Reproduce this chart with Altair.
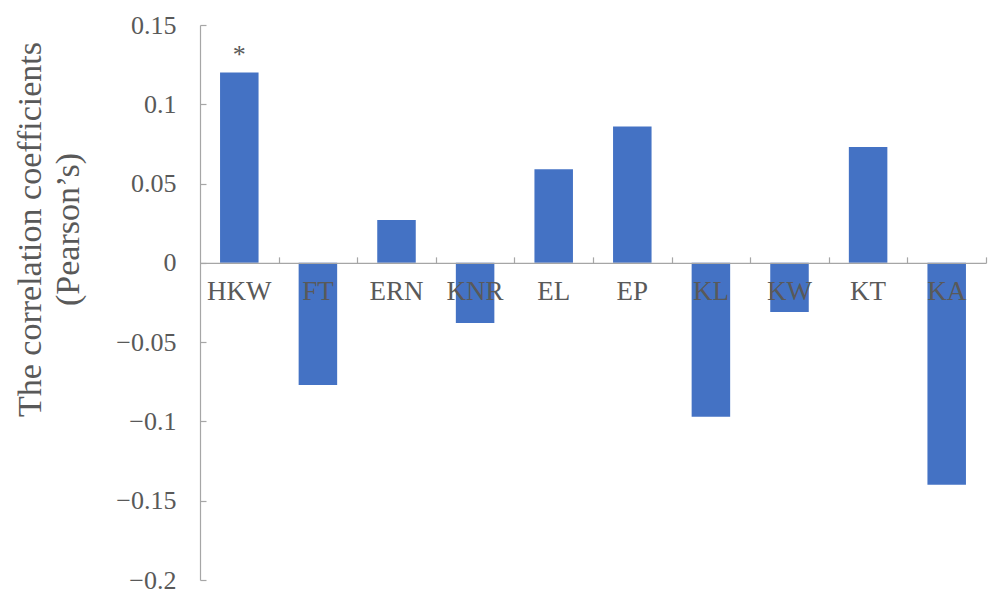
import altair as alt
import pandas as pd

# Trait categories and their Pearson correlation coefficients
traits = ["HKW", "FT", "ERN", "KNR", "EL", "EP", "KL", "KW", "KT", "KA"]
coefficients = [0.120, -0.077, 0.027, -0.038, 0.059, 0.086, -0.097, -0.031, 0.073, -0.140]
significance = ["*", "", "", "", "", "", "", "", "", ""]
y_ticks = [-0.2, -0.15, -0.1, -0.05, 0, 0.05, 0.1, 0.15]

df = pd.DataFrame({"trait": traits, "r": coefficients, "sig": significance})

FONT = "Times New Roman, Liberation Serif, serif"
TEXT = "#595959"
LINE = "#a6a6a6"
W, H = 786, 555
Y_MIN, Y_MAX = -0.2, 0.15
zero_from_top = H * Y_MAX / (Y_MAX - Y_MIN)
step = W / len(traits)

x_scale = alt.Scale(domain=traits, paddingInner=0.51, paddingOuter=0.255)
y_scale = alt.Scale(domain=[Y_MIN, Y_MAX], nice=False, zero=False)

bars = alt.Chart(df).mark_bar(color="#4472C4").encode(
    x=alt.X(
        "trait:N",
        scale=x_scale,
        sort=traits,
        axis=alt.Axis(
            orient="bottom",
            title=None,
            offset=-(H - zero_from_top),
            ticks=False,
            domain=True,
            domainColor=LINE,
            domainWidth=1.2,
            labelAngle=0,
            labelFont=FONT,
            labelFontSize=27,
            labelColor=TEXT,
            labelPadding=16,
            zindex=1,
        ),
    ),
    y=alt.Y(
        "r:Q",
        scale=y_scale,
        axis=alt.Axis(
            orient="left",
            values=y_ticks,
            grid=False,
            ticks=False,
            domainColor=LINE,
            domainWidth=1.2,
            labelFont=FONT,
            labelFontSize=26,
            labelColor=TEXT,
            labelPadding=24,
            labelExpr="replace(format(datum.value, '~g'), '-', '\u2212')",
            title=["The correlation coefficients", "(Pearson\u2019s)"],
            titleFont=FONT,
            titleFontSize=34,
            titleFontWeight="normal",
            titleColor=TEXT,
            titleAngle=270,
            titleAlign="center",
            titleBaseline="top",
            titleLineHeight=38,
            titleX=-187,
            titleY=204,
        ),
    ),
)

# Significance marker above bars; its axes carry the inward tick marks
stars = alt.Chart(df).mark_text(
    font=FONT, fontSize=26, color=TEXT, baseline="alphabetic", dy=-10
).encode(
    x=alt.X(
        "trait:N",
        scale=x_scale,
        sort=traits,
        axis=alt.Axis(
            orient="top",
            title=None,
            offset=-zero_from_top,
            labels=False,
            domain=False,
            ticks=True,
            tickOffset=step / 2,
            tickSize=6,
            tickColor=LINE,
            tickWidth=1.2,
            zindex=2,
        ),
    ),
    y=alt.Y(
        "r:Q",
        scale=y_scale,
        axis=alt.Axis(
            orient="right",
            title=None,
            offset=-W,
            values=y_ticks,
            grid=False,
            labels=False,
            domain=False,
            ticks=True,
            tickSize=6,
            tickColor=LINE,
            tickWidth=1.2,
            zindex=2,
        ),
    ),
    text="sig:N",
)

chart = (
    alt.layer(bars, stars)
    .resolve_axis(x="independent", y="independent")
    .properties(
        width=W,
        height=H,
        padding={"left": 200, "top": 25, "right": 7, "bottom": 14},
        autosize=alt.AutoSizeParams(type="none"),
        background="white",
    )
    .configure_view(stroke=None)
)

chart.save("out.html", embed_options={"renderer": "svg", "actions": False})
